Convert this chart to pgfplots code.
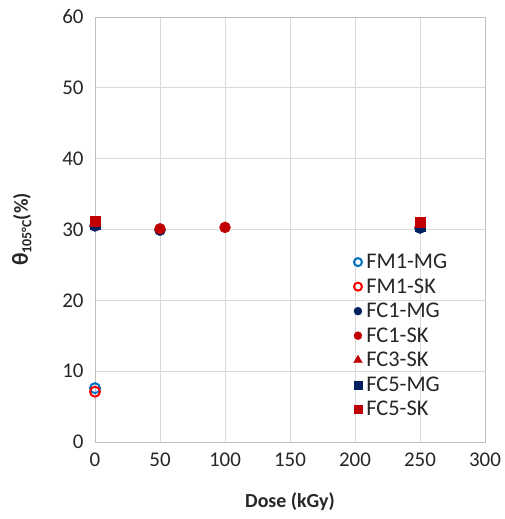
\documentclass[border=0pt]{standalone}
\usepackage{pgfplots}
\pgfplotsset{compat=1.18}
\usepackage{fontspec}
\setmainfont{Carlito}
\definecolor{gridc}{RGB}{217,217,217}
\definecolor{axc}{RGB}{191,191,191}
\definecolor{mblue}{RGB}{0,112,192}
\definecolor{mred}{RGB}{255,0,0}
\definecolor{navy}{RGB}{0,32,96}
\definecolor{dred}{RGB}{192,0,0}
\begin{document}
\begin{tikzpicture}
\begin{axis}[name=ax,
  scale only axis, width=390bp, height=425bp,
  xmin=0, xmax=300, ymin=0, ymax=60,
  xtick={0,50,...,300}, ytick={0,10,...,60},
  grid=major, grid style={gridc, line width=1pt},
  axis line style={axc, line width=1pt},
  major tick length=0pt,
  tick label style={font=\fontsize{21}{24}\selectfont, text=black!85},
  /pgf/number format/assume math mode=true,
  xlabel={\textbf{Dose (kGy)}},
  ylabel={\textbf{{\fontsize{23}{26}\selectfont θ}\raisebox{-0.35ex}{\fontsize{14}{16}\selectfont\bfseries 105°C}(\%)}},
  label style={font=\fontsize{20}{24}\selectfont, text=black!85},
  xticklabel style={yshift=-7bp},
  yticklabel style={xshift=-8bp},
  xlabel style={yshift=-20bp},
  ylabel style={yshift=24bp},
  legend style={at={(0.655,0.452)}, anchor=north west, draw=none, fill=none,
    font=\fontsize{22.5}{26}\selectfont, row sep=4.5bp, text=black!85,
    nodes={inner xsep=4bp}},
  legend image post style={mark size=4bp},
  legend cell align=left,
  clip=false,
]
\addplot[only marks, mark=o, mark size=5bp, mark options={draw=mblue, line width=2pt}] coordinates {(0,7.6)};
\addlegendentry{FM1-MG}
\addplot[only marks, mark=o, mark size=5bp, mark options={draw=mred, line width=2pt}] coordinates {(0,7.1)};
\addlegendentry{FM1-SK}
\addplot[only marks, mark=*, mark size=5.5bp, mark options={draw=navy, fill=navy}] coordinates {(0,30.5) (50,29.9) (250,30.2)};
\addlegendentry{FC1-MG}
\addplot[only marks, mark=*, mark size=5.5bp, mark options={draw=dred, fill=dred}] coordinates {(50,30.1) (100,30.3)};
\addlegendentry{FC1-SK}
\addplot[only marks, mark=triangle*, mark size=6bp, mark options={draw=dred, fill=dred}, legend image post style={mark size=5bp}] coordinates {(250,30.8)};
\addlegendentry{FC3-SK}
\addplot[only marks, mark=square*, mark size=5bp, mark options={draw=navy, fill=navy}] coordinates {(0,30.8) (250,30.5)};
\addlegendentry{FC5-MG}
\addplot[only marks, mark=square*, mark size=5bp, mark options={draw=dred, fill=dred}] coordinates {(0,31.2) (250,31.1)};
\addlegendentry{FC5-SK}
\end{axis}
\path ([shift={(-95bp,-77bp)}]ax.south west) rectangle ([shift={(18bp,17bp)}]ax.north east);
\end{tikzpicture}
\end{document}
